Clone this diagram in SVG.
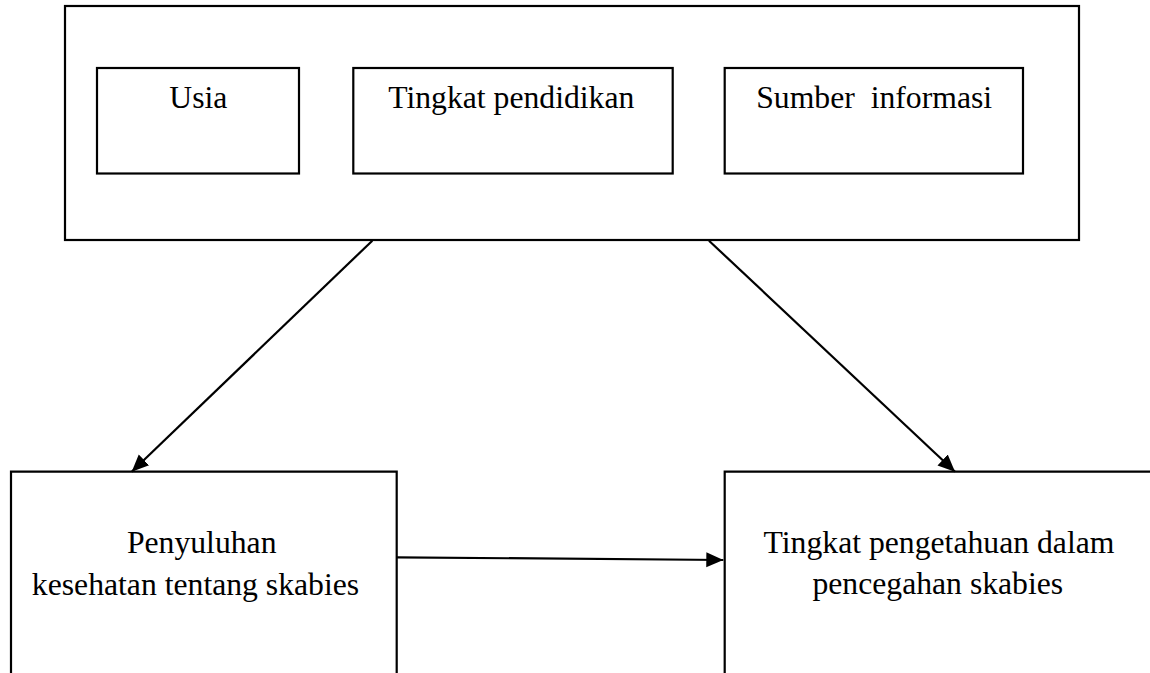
<svg xmlns="http://www.w3.org/2000/svg" width="1150" height="673" viewBox="0 0 1150 673">
<style>
.box{fill:none;stroke:#000;stroke-width:2.2}
.t{font-family:'Liberation Serif','Times New Roman','DejaVu Serif',serif;font-size:31.7px;fill:#000;text-anchor:middle}
.c{stroke:#000;stroke-width:2.2;fill:none;marker-end:url(#ah)}
</style>
<defs>
<marker id="ah" markerUnits="userSpaceOnUse" markerWidth="20" markerHeight="18" viewBox="0 0 20 18" refX="17" refY="9" orient="auto">
<path d="M0,1.5 L17,9 L0,16.5 Z" fill="#000"/>
</marker>
</defs>
<rect width="1150" height="673" fill="#fff"/>
<g id="outer"><rect class="box" x="65" y="6" width="1014" height="234"/></g>
<g id="usia"><rect class="box" x="97" y="68" width="202" height="105.5"/><text class="t" x="198.3" y="108">Usia</text></g>
<g id="pendidikan"><rect class="box" x="353.3" y="68" width="319.4" height="105.5"/><text class="t" x="511.3" y="108.3">Tingkat pendidikan</text></g>
<g id="sumber"><rect class="box" x="724.7" y="68" width="298.3" height="105.5"/><text class="t" x="874.2" y="108.3" xml:space="preserve">Sumber  informasi</text></g>
<g id="penyuluhan"><path class="box" d="M11,675 V471.7 H396.7 V675"/><text class="t" x="201.7" y="553.3">Penyuluhan</text><text class="t" x="195.5" y="595">kesehatan tentang skabies</text></g>
<g id="pengetahuan"><path class="box" d="M724.7,675 V471.7 H1152"/><text class="t" x="939" y="553.3">Tingkat pengetahuan dalam</text><text class="t" x="937.8" y="594">pencegahan skabies</text></g>
<g id="connectors">
<line class="c" x1="372.3" y1="240.7" x2="131.7" y2="471.7"/>
<line class="c" x1="709" y1="240.7" x2="955" y2="471.7"/>
<line class="c" x1="397" y1="557.3" x2="723.3" y2="560"/>
</g>
</svg>
